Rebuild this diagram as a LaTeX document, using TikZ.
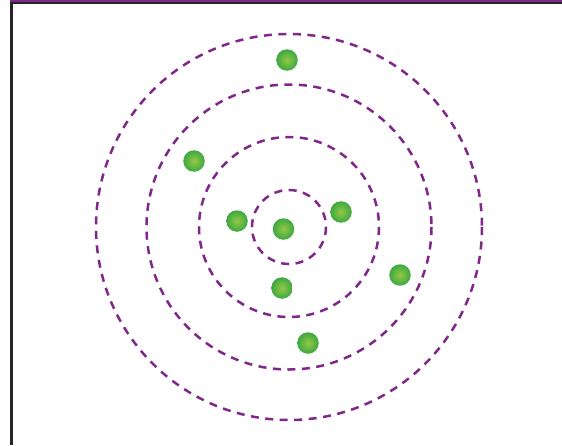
\documentclass[tikz,border=0pt]{standalone}
\begin{document}
\begin{tikzpicture}[x=1pt,y=-1pt,
  orbit/.style={draw=orbitpurple,line width=2.5pt,dash pattern=on 8pt off 6.5pt},
  electron/.style={circle,minimum size=21.5pt,inner sep=0pt,shading=radial,inner color=dotinner,outer color=dotouter}]
\definecolor{orbitpurple}{HTML}{80278A}
\definecolor{dotinner}{HTML}{94C845}
\definecolor{dotouter}{HTML}{3DA842}
\useasboundingbox (0,0) rectangle (562,445);
\fill[white] (0,0) rectangle (562,445);
% frame
\fill[orbitpurple] (10,0) rectangle (562,2.3);
\fill[black!85] (10,2.3) rectangle (562,4.3);
\fill[black!85] (10,2.3) rectangle (12.5,445);
% orbits
\coordinate (c) at (289,227);
\draw[orbit] (c) circle[radius=37];
\draw[orbit] (c) circle[radius=90];
\draw[orbit] (c) circle[radius=142.5];
\draw[orbit] (c) circle[radius=193];
% electrons
\node[electron] (e1) at (287,60) {};
\node[electron] (e2) at (194,161) {};
\node[electron] (e3) at (237,221) {};
\node[electron] (e4) at (283.5,229) {};
\node[electron] (e5) at (341,212) {};
\node[electron] (e6) at (400,275) {};
\node[electron] (e7) at (282,288) {};
\node[electron] (e8) at (308,343) {};
\end{tikzpicture}
\end{document}
